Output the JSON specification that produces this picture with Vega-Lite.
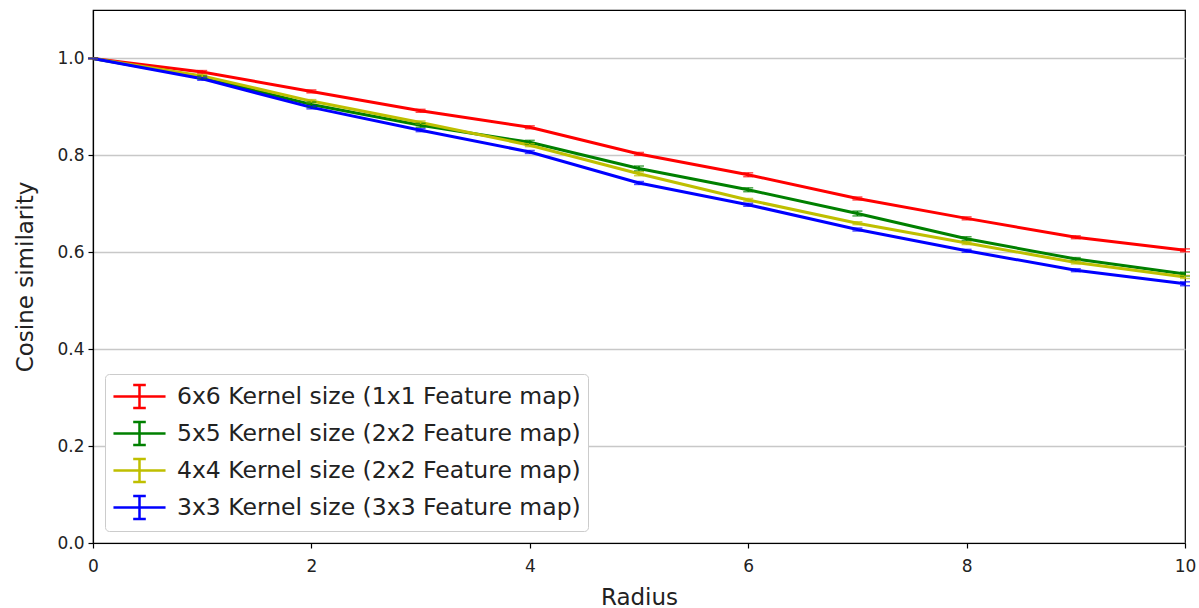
{
  "$schema": "https://vega.github.io/schema/vega-lite/v6.json",
  "width": 1092,
  "height": 533,
  "autosize": "none",
  "padding": {"left": 93, "top": 10, "right": 14, "bottom": 65},
  "background": "white",
  "config": {
    "font": "DejaVu Sans",
    "view": {"stroke": "black", "strokeWidth": 1.2},
    "axis": {
      "domainColor": "black", "domainWidth": 1.2, "tickColor": "black", "tickSize": 5, "tickWidth": 1.2,
      "labelColor": "#222", "titleColor": "#222", "labelFont": "DejaVu Sans", "titleFont": "DejaVu Sans",
      "titleFontWeight": "normal", "labelFontSize": 17, "titleFontSize": 23, "labelFlush": false
    }
  },
  "data": {"values": [
    {"r": 0, "s": "6x6 Kernel size (1x1 Feature map)", "y": 1.0, "lo": 1.0, "hi": 1.0},
    {"r": 1, "s": "6x6 Kernel size (1x1 Feature map)", "y": 0.972, "lo": 0.969, "hi": 0.975},
    {"r": 2, "s": "6x6 Kernel size (1x1 Feature map)", "y": 0.932, "lo": 0.929, "hi": 0.935},
    {"r": 3, "s": "6x6 Kernel size (1x1 Feature map)", "y": 0.892, "lo": 0.889, "hi": 0.895},
    {"r": 4, "s": "6x6 Kernel size (1x1 Feature map)", "y": 0.858, "lo": 0.855, "hi": 0.861},
    {"r": 5, "s": "6x6 Kernel size (1x1 Feature map)", "y": 0.803, "lo": 0.8, "hi": 0.806},
    {"r": 6, "s": "6x6 Kernel size (1x1 Feature map)", "y": 0.760, "lo": 0.756, "hi": 0.764},
    {"r": 7, "s": "6x6 Kernel size (1x1 Feature map)", "y": 0.711, "lo": 0.708, "hi": 0.714},
    {"r": 8, "s": "6x6 Kernel size (1x1 Feature map)", "y": 0.670, "lo": 0.667, "hi": 0.673},
    {"r": 9, "s": "6x6 Kernel size (1x1 Feature map)", "y": 0.631, "lo": 0.628, "hi": 0.634},
    {"r": 10, "s": "6x6 Kernel size (1x1 Feature map)", "y": 0.604, "lo": 0.601, "hi": 0.607},
    {"r": 0, "s": "5x5 Kernel size (2x2 Feature map)", "y": 1.0, "lo": 1.0, "hi": 1.0},
    {"r": 1, "s": "5x5 Kernel size (2x2 Feature map)", "y": 0.961, "lo": 0.958, "hi": 0.964},
    {"r": 2, "s": "5x5 Kernel size (2x2 Feature map)", "y": 0.905, "lo": 0.9, "hi": 0.91},
    {"r": 3, "s": "5x5 Kernel size (2x2 Feature map)", "y": 0.862, "lo": 0.858, "hi": 0.866},
    {"r": 4, "s": "5x5 Kernel size (2x2 Feature map)", "y": 0.827, "lo": 0.823, "hi": 0.831},
    {"r": 5, "s": "5x5 Kernel size (2x2 Feature map)", "y": 0.773, "lo": 0.768, "hi": 0.778},
    {"r": 6, "s": "5x5 Kernel size (2x2 Feature map)", "y": 0.729, "lo": 0.725, "hi": 0.733},
    {"r": 7, "s": "5x5 Kernel size (2x2 Feature map)", "y": 0.680, "lo": 0.675, "hi": 0.685},
    {"r": 8, "s": "5x5 Kernel size (2x2 Feature map)", "y": 0.628, "lo": 0.624, "hi": 0.632},
    {"r": 9, "s": "5x5 Kernel size (2x2 Feature map)", "y": 0.586, "lo": 0.583, "hi": 0.589},
    {"r": 10, "s": "5x5 Kernel size (2x2 Feature map)", "y": 0.555, "lo": 0.551, "hi": 0.559},
    {"r": 0, "s": "4x4 Kernel size (2x2 Feature map)", "y": 1.0, "lo": 1.0, "hi": 1.0},
    {"r": 1, "s": "4x4 Kernel size (2x2 Feature map)", "y": 0.964, "lo": 0.961, "hi": 0.967},
    {"r": 2, "s": "4x4 Kernel size (2x2 Feature map)", "y": 0.912, "lo": 0.909, "hi": 0.915},
    {"r": 3, "s": "4x4 Kernel size (2x2 Feature map)", "y": 0.868, "lo": 0.865, "hi": 0.871},
    {"r": 4, "s": "4x4 Kernel size (2x2 Feature map)", "y": 0.821, "lo": 0.818, "hi": 0.824},
    {"r": 5, "s": "4x4 Kernel size (2x2 Feature map)", "y": 0.762, "lo": 0.758, "hi": 0.766},
    {"r": 6, "s": "4x4 Kernel size (2x2 Feature map)", "y": 0.708, "lo": 0.705, "hi": 0.711},
    {"r": 7, "s": "4x4 Kernel size (2x2 Feature map)", "y": 0.660, "lo": 0.657, "hi": 0.663},
    {"r": 8, "s": "4x4 Kernel size (2x2 Feature map)", "y": 0.619, "lo": 0.616, "hi": 0.622},
    {"r": 9, "s": "4x4 Kernel size (2x2 Feature map)", "y": 0.579, "lo": 0.576, "hi": 0.582},
    {"r": 10, "s": "4x4 Kernel size (2x2 Feature map)", "y": 0.549, "lo": 0.546, "hi": 0.552},
    {"r": 0, "s": "3x3 Kernel size (3x3 Feature map)", "y": 1.0, "lo": 1.0, "hi": 1.0},
    {"r": 1, "s": "3x3 Kernel size (3x3 Feature map)", "y": 0.958, "lo": 0.955, "hi": 0.961},
    {"r": 2, "s": "3x3 Kernel size (3x3 Feature map)", "y": 0.899, "lo": 0.896, "hi": 0.902},
    {"r": 3, "s": "3x3 Kernel size (3x3 Feature map)", "y": 0.852, "lo": 0.849, "hi": 0.855},
    {"r": 4, "s": "3x3 Kernel size (3x3 Feature map)", "y": 0.807, "lo": 0.804, "hi": 0.81},
    {"r": 5, "s": "3x3 Kernel size (3x3 Feature map)", "y": 0.743, "lo": 0.74, "hi": 0.746},
    {"r": 6, "s": "3x3 Kernel size (3x3 Feature map)", "y": 0.698, "lo": 0.695, "hi": 0.701},
    {"r": 7, "s": "3x3 Kernel size (3x3 Feature map)", "y": 0.647, "lo": 0.644, "hi": 0.65},
    {"r": 8, "s": "3x3 Kernel size (3x3 Feature map)", "y": 0.603, "lo": 0.6, "hi": 0.606},
    {"r": 9, "s": "3x3 Kernel size (3x3 Feature map)", "y": 0.563, "lo": 0.56, "hi": 0.566},
    {"r": 10, "s": "3x3 Kernel size (3x3 Feature map)", "y": 0.535, "lo": 0.531, "hi": 0.539}
  ]},
  "encoding": {
    "x": {"field": "r", "type": "quantitative", "title": "Radius",
      "scale": {"domain": [0, 10], "nice": false, "zero": false},
      "axis": {"values": [0, 2, 4, 6, 8, 10], "grid": false, "labelPadding": 10, "titlePadding": 12, "labelFlush": false}},
    "color": {"field": "s", "type": "nominal",
      "scale": {"domain": ["6x6 Kernel size (1x1 Feature map)", "5x5 Kernel size (2x2 Feature map)", "4x4 Kernel size (2x2 Feature map)", "3x3 Kernel size (3x3 Feature map)"],
        "range": ["#ff0000", "#008000", "#bfbf00", "#0000ff"]},
      "legend": {
        "title": null, "orient": "none", "legendX": 12, "legendY": 364,
        "fillColor": "white", "strokeColor": "#cccccc", "cornerRadius": 4, "padding": 7,
        "symbolType": "M-1.86,0H1.86M0,-0.82V0.82M-0.45,-0.82H0.45M-0.45,0.82H0.45",
        "symbolSize": 784, "symbolStrokeWidth": 2.5, "symbolFillColor": "transparent", "symbolOffset": 12, "symbolOpacity": 1,
        "labelOffset": 22, "labelFontSize": 23.5, "labelFont": "DejaVu Sans", "labelColor": "#222",
        "rowPadding": 4, "labelLimit": 700
      }}
  },
  "layer": [
    {
      "mark": {"type": "line", "strokeWidth": 3},
      "encoding": {
        "y": {"field": "y", "type": "quantitative", "title": "Cosine similarity",
          "scale": {"domain": [0, 1.1], "nice": false},
          "axis": {"values": [0, 0.2, 0.4, 0.6, 0.8, 1.0], "format": ".1f", "grid": true, "gridColor": "#c8c8c8", "gridWidth": 1.5, "labelPadding": 4, "titlePadding": 19, "labelFlush": false}}
      }
    },
    {
      "mark": {"type": "errorbar", "ticks": {"size": 10, "thickness": 1.5}, "thickness": 1.5},
      "encoding": {
        "y": {"field": "lo", "type": "quantitative", "title": "Cosine similarity"},
        "y2": {"field": "hi"}
      }
    }
  ]
}
